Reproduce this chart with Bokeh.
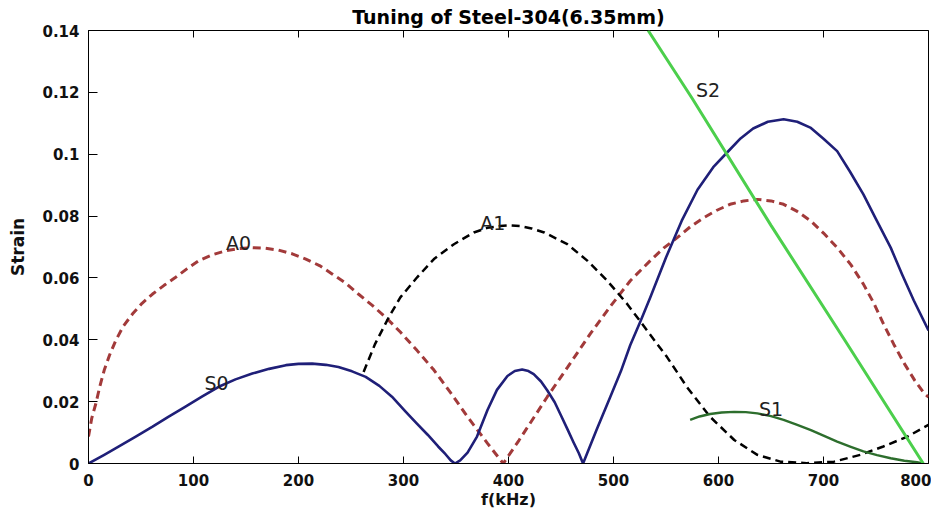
from bokeh.plotting import figure
from bokeh.models import LinearAxis, FixedTicker, Range1d
from bokeh.core.properties import value
from bokeh.embed import file_html
from bokeh.resources import INLINE

# ---- data ----
x_ticks = [0, 100, 200, 300, 400, 500, 600, 700, 800]
x_tick_labels = ["0", "100", "200", "300", "400", "500", "600", "700", "800"]
y_ticks = [0, 0.02, 0.04, 0.06, 0.08, 0.1, 0.12, 0.14]
y_tick_labels = ["0", "0.02", "0.04", "0.06", "0.08", "0.1", "0.12", "0.14"]

s0_f = [0, 15, 29, 45, 61, 76, 92, 108, 124, 140, 156, 172, 188, 200, 213, 226,
        238, 251, 264, 277, 289, 302, 313, 323, 333, 340, 345, 349, 354, 361,
        370, 380, 389, 399, 406, 413, 419, 424, 431, 437, 444, 450, 456, 462, 467,
        471, 484, 497, 507, 516, 526, 535, 550, 565, 580, 595, 610, 621, 633, 647,
        662, 675, 688, 700, 713, 725, 738, 750, 764, 775, 786, 800]
s0_s = [0, 0.0028, 0.0055, 0.0087, 0.0119, 0.0151, 0.0183, 0.0216, 0.0248, 0.0272,
        0.0291, 0.0306, 0.0318, 0.0322, 0.0323, 0.0319, 0.0312, 0.0298, 0.028,
        0.0251, 0.0216, 0.0168, 0.0128, 0.0093, 0.0055, 0.003, 0.001, 0.0, 0.001,
        0.0035, 0.0087, 0.0173, 0.0238, 0.0283, 0.0299, 0.0304, 0.0299, 0.0289,
        0.0265, 0.0236, 0.0198, 0.0155, 0.0112, 0.0068, 0.0033, 0.0, 0.011, 0.0216,
        0.0298, 0.0383, 0.0462, 0.0537, 0.0666, 0.0785, 0.0885, 0.0958, 0.1012,
        0.1051, 0.1083, 0.1105, 0.1113, 0.1105, 0.1085, 0.105, 0.101, 0.0945,
        0.087, 0.079, 0.0698, 0.061, 0.0527, 0.043]

a0_f = [0, 3, 7, 11, 15, 20, 26, 33, 42, 51, 61, 72, 83, 94, 105, 118, 131, 143,
        156, 168, 181, 194, 207, 220, 232, 245, 257, 270, 283, 297, 313, 329, 345,
        361, 380, 395, 410, 424, 437, 456, 478, 497, 516, 535, 548, 561, 573, 586,
        598, 611, 624, 637, 650, 662, 675, 688, 700, 713, 726, 738, 748, 757, 767,
        777, 787, 796, 800]
a0_s = [0.0087, 0.0145, 0.0194, 0.0252, 0.0302, 0.035, 0.0398, 0.0443, 0.0484,
        0.0518, 0.0548, 0.0576, 0.0602, 0.063, 0.0656, 0.0675, 0.0688, 0.0695,
        0.0698, 0.0696, 0.069, 0.0678, 0.0661, 0.064, 0.0613, 0.0583, 0.0548,
        0.0512, 0.0473, 0.0425, 0.0365, 0.0302, 0.0228, 0.0151, 0.0065, 0.0, 0.0075,
        0.0148, 0.0216, 0.031, 0.042, 0.0508, 0.0591, 0.0656, 0.0697, 0.0731,
        0.0765, 0.0795, 0.0818, 0.0838, 0.0849, 0.0854, 0.0849, 0.0838, 0.0815,
        0.0784, 0.0745, 0.0698, 0.0643, 0.058, 0.0518, 0.0452, 0.0385, 0.0323,
        0.0268, 0.0226, 0.0215]

a1_f = [262, 273, 286, 297, 313, 329, 348, 367, 380, 392, 401, 411, 422, 434, 456,
        475, 494, 513, 532, 551, 570, 592, 615, 637, 659, 684, 710, 735, 757, 780,
        800]
a1_s = [0.0296, 0.0387, 0.0473, 0.0537, 0.0602, 0.0661, 0.0709, 0.0747, 0.0762,
        0.0768, 0.077, 0.0768, 0.076, 0.0747, 0.0709, 0.0656, 0.0591, 0.0516,
        0.043, 0.0344, 0.0247, 0.0151, 0.0076, 0.0028, 0.0006, 0.0001, 0.0006,
        0.0028, 0.0055, 0.0087, 0.0125]

s1_f = [573, 582, 592, 603, 615, 626, 637, 650, 662, 675, 688, 700, 713, 726, 738,
        751, 764, 777, 789, 795]
s1_s = [0.0141, 0.0152, 0.016, 0.0165, 0.0167, 0.0166, 0.0162, 0.0153, 0.0141,
        0.0125, 0.0108, 0.009, 0.0071, 0.0054, 0.0039, 0.0027, 0.0017, 0.0009,
        0.0004, 0.0]

s2_f = [533, 575, 650, 720, 795]
s2_s = [0.14, 0.118, 0.077, 0.040, 0.0]

mode_names = ["A0", "S0", "A1", "S1", "S2"]
mode_label_f = [143, 122, 385, 650, 590]
mode_label_s = [0.0713, 0.0261, 0.0779, 0.0176, 0.1208]

# ---- figure ----
FONT = "DejaVu Sans"
p = figure(frame_width=840, frame_height=433, x_range=Range1d(0, 800),
           y_range=Range1d(0, 0.14), output_backend="svg", toolbar_location=None,
           min_border_left=88, min_border_right=3, min_border_top=30,
           min_border_bottom=44, title="Tuning of Steel-304(6.35mm)")
p.title.align = "center"
p.title.text_font = FONT
p.title.text_font_size = "19px"
p.title.text_font_style = "bold"
p.title.text_color = "black"
p.title.standoff = 5
p.xgrid.visible = False
p.ygrid.visible = False
p.outline_line_color = "black"
p.outline_line_width = 1
p.background_fill_color = "white"
p.border_fill_color = "white"

xa = p.xaxis[0]
xa.ticker = FixedTicker(ticks=x_ticks)
xa.major_label_overrides = {t: l for t, l in zip(x_ticks, x_tick_labels)}
xa.axis_label = "f(kHz)"
ya = p.yaxis[0]
ya.ticker = FixedTicker(ticks=y_ticks)
ya.major_label_overrides = {t: l for t, l in zip(y_ticks, y_tick_labels)}
ya.axis_label = "Strain"

for ax, tick in ((xa, 7), (ya, 9)):
    ax.major_tick_in = tick
    ax.major_tick_out = 0
    ax.minor_tick_in = 0
    ax.minor_tick_out = 0
    ax.axis_line_color = "black"
    ax.major_tick_line_color = "black"
    ax.major_label_text_font = FONT
    ax.major_label_text_font_style = "bold"
    ax.major_label_text_font_size = "15px"
    ax.major_label_text_color = "#111111"
    ax.axis_label_text_font = FONT
    ax.axis_label_text_font_style = "bold"
    ax.axis_label_text_color = "#111111"

xa.major_label_standoff = 10
xa.axis_label_standoff = 1
xa.axis_label_text_font_size = "16px"
ya.major_label_standoff = 9
ya.axis_label_standoff = 11
ya.axis_label_text_font_size = "17px"

top = LinearAxis(ticker=FixedTicker(ticks=x_ticks), major_label_text_font_size="0px",
                 major_tick_in=7, major_tick_out=0, minor_tick_in=0, minor_tick_out=0,
                 major_label_standoff=0, axis_line_color=None,
                 major_tick_line_color="black")
top.major_label_overrides = {t: "" for t in x_ticks}
p.add_layout(top, "above")

# ---- curves ----
p.line(a0_f, a0_s, line_color="#a23a3a", line_width=3, line_dash="8 5")
p.line(a1_f, a1_s, line_color="black", line_width=2.5, line_dash="8 5")
p.line(s0_f, s0_s, line_color="#1f1f78", line_width=2.6, line_join="round")
p.line(s1_f, s1_s, line_color="#2d6e2d", line_width=2.4, line_join="round")
p.line(s2_f, s2_s, line_color="#4ccf4c", line_width=3)

p.text(x=mode_label_f, y=mode_label_s, text=mode_names, text_align="center",
       text_baseline="alphabetic", text_font=value(FONT), text_font_size="19px",
       text_color="#222222")

open("out.html", "w").write(file_html(p, INLINE))
